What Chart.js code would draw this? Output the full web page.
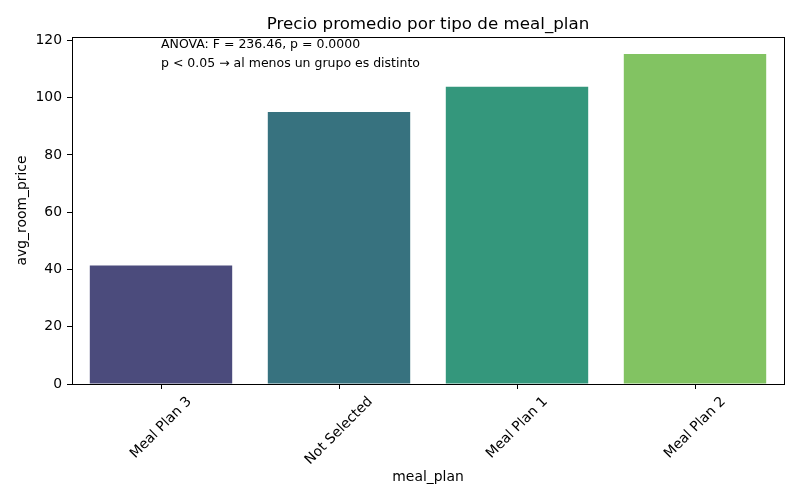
<!DOCTYPE html>
<html><head><meta charset="utf-8">
<script src="https://cdn.jsdelivr.net/npm/chart.js@4"></script>
<style>html,body{margin:0;padding:0;background:#fff}#wrap{width:800px;height:500px}</style>
</head><body><div id="wrap"><canvas id="c" width="800" height="500"></canvas></div>
<script>
const categories = ["Meal Plan 3", "Not Selected", "Meal Plan 1", "Meal Plan 2"];
const avgRoomPrice = [41.4, 95.0, 103.8, 115.3];
const barColors = ["#4b4b7c", "#37727f", "#34977c", "#82c362"];
const yTicks = [0, 20, 40, 60, 80, 100, 120];
const titleText = "Precio promedio por tipo de meal_plan";
const annotation = ["ANOVA: F = 236.46, p = 0.0000", "p < 0.05 \u2192 al menos un grupo es distinto"];
const xTitle = "meal_plan";
const yTitle = "avg_room_price";

const FONT = "'DejaVu Sans', sans-serif";

const decor = {
  id: 'decor',
  afterDraw(chart) {
    const ctx = chart.ctx, a = chart.chartArea, xs = chart.scales.x;
    ctx.save();
    ctx.strokeStyle = '#000'; ctx.lineWidth = 1;
    ctx.strokeRect(Math.round(a.left) + 0.5, Math.round(a.top) + 0.5, Math.round(a.right - a.left), Math.round(a.bottom - a.top));
    ctx.fillStyle = '#000';
    ctx.font = `16.7px ${FONT}`; ctx.textAlign = 'center'; ctx.textBaseline = 'alphabetic';
    ctx.fillText(titleText, (a.left + a.right) / 2, 29);
    ctx.font = `13.9px ${FONT}`;
    const h = 13.9 * 1.164;
    categories.forEach((c, i) => {
      const x = xs.getPixelForValue(i);
      const w = ctx.measureText(c).width;
      const cy = a.bottom + 9.8 + (w + h) * 0.7071 / 2;
      ctx.save(); ctx.translate(x, cy); ctx.rotate(-Math.PI / 4);
      ctx.textAlign = 'center'; ctx.textBaseline = 'middle';
      ctx.fillText(c, 0, 0); ctx.restore();
    });
    ctx.textAlign = 'center'; ctx.textBaseline = 'middle';
    ctx.fillText(xTitle, (a.left + a.right) / 2, 477);
    ctx.save(); ctx.translate(22, (a.top + a.bottom) / 2); ctx.rotate(-Math.PI / 2);
    ctx.fillText(yTitle, 0, 0); ctx.restore();
    ctx.font = `12.5px ${FONT}`; ctx.textAlign = 'left'; ctx.textBaseline = 'alphabetic';
    const ax = xs.getPixelForValue(0);
    ctx.fillText(annotation[0], ax, 47.5);
    ctx.fillText(annotation[1], ax, 67);
    ctx.restore();
  }
};

new Chart(document.getElementById('c'), {
  type: 'bar',
  data: {
    labels: categories,
    datasets: [{ data: avgRoomPrice, backgroundColor: barColors, borderWidth: 0, inflateAmount: 0, barPercentage: 0.8, categoryPercentage: 1.0 }]
  },
  options: {
    responsive: false, animation: false, devicePixelRatio: 1,
    layout: { padding: { top: 37, right: 16, left: 0, bottom: 0 } },
    plugins: { legend: { display: false }, tooltip: { enabled: false }, title: { display: false } },
    scales: {
      x: {
        offset: true,
        grid: { display: true, drawOnChartArea: false, drawTicks: true, tickLength: 5, color: '#000', offset: false },
        border: { display: true, color: '#000', width: 1 },
        ticks: { display: false },
        afterFit(s) { s.height = 116; }
      },
      y: {
        min: 0, max: 121.2,
        grid: { display: true, drawOnChartArea: false, drawTicks: true, tickLength: 5, color: '#000' },
        border: { display: true, color: '#000', width: 1 },
        ticks: { stepSize: 20, color: '#000', padding: 5, font: { family: FONT, size: 13.9 } },
        afterBuildTicks(s) { s.ticks = yTicks.map(v => ({ value: v })); },
        afterFit(s) { s.width = 72; }
      }
    }
  },
  plugins: [decor]
});
</script></body></html>
